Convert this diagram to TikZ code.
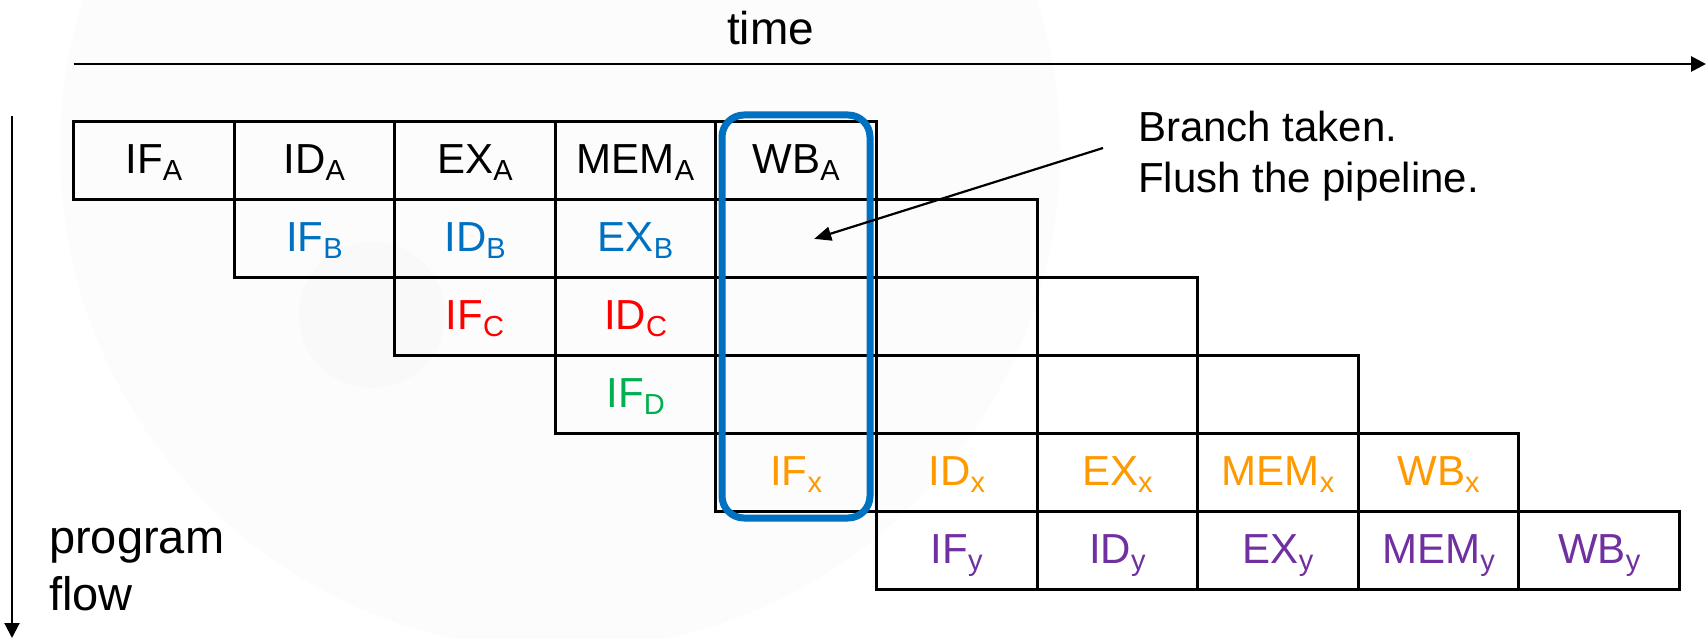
\documentclass[tikz,border=0pt]{standalone}
\usepackage{fontspec}
\setmainfont{Liberation Sans}
\usetikzlibrary{arrows.meta,calc}

\definecolor{stageblue}{HTML}{0070C0}
\definecolor{stagered}{HTML}{FF0000}
\definecolor{stagegreen}{HTML}{00B050}
\definecolor{stageorange}{HTML}{FF9900}
\definecolor{stagepurple}{HTML}{7030A0}

% stage name with its instruction letter as a subscript
\newcommand\stg[2]{#1\raisebox{-7pt}{\fontsize{29}{29}\selectfont #2}}

\tikzset{
  cell/.style={draw=black, line width=3pt, inner sep=0pt,
    minimum width=160.6pt, text height=51.5pt, text depth=26.4pt},
  lbl/.style={anchor=base, inner sep=0pt, font=\fontsize{42}{50}\selectfont},
  axis/.style={line width=2.8pt, -{Triangle[length=15pt,width=15pt]}},
  note/.style={anchor=base west, inner sep=0pt, font=\fontsize{42}{50}\selectfont},
}

\begin{document}
\begin{tikzpicture}[x=1pt,y=-1pt]
\useasboundingbox (0,0) rectangle (1707,639);
\fill[white] (0,0) rectangle (1707,639);

% faint watermark swirl
\fill[black!1.2] (560,150) circle[radius=500];
\fill[black!2.5] (372,315) circle[radius=73];

% pipeline cells: each instruction starts one clock cycle later
\foreach \r/\n in {0/A,1/B,2/C,3/D,4/x,5/y}{
  \foreach \k in {0,...,4}{
    \pgfmathtruncatemacro\c{\r+\k}
    \node[cell] (c\n\k) at ({153.8+160.6*\c},{160.95+77.9*\r}) {};
  }
}

% instruction A
\node[lbl] (lA0) at (cA0.base) {\stg{IF}{A}};
\node[lbl] (lA1) at (cA1.base) {\stg{ID}{A}};
\node[lbl] (lA2) at (cA2.base) {\stg{EX}{A}};
\node[lbl] (lA3) at (cA3.base) {\stg{MEM}{A}};
\node[lbl] (lA4) at (cA4.base) {\stg{WB}{A}};
% instruction B
\node[lbl, text=stageblue] (lB0) at (cB0.base) {\stg{IF}{B}};
\node[lbl, text=stageblue] (lB1) at (cB1.base) {\stg{ID}{B}};
\node[lbl, text=stageblue] (lB2) at (cB2.base) {\stg{EX}{B}};
% instruction C
\node[lbl, text=stagered] (lC0) at (cC0.base) {\stg{IF}{C}};
\node[lbl, text=stagered] (lC1) at (cC1.base) {\stg{ID}{C}};
% instruction D
\node[lbl, text=stagegreen] (lD0) at (cD0.base) {\stg{IF}{D}};
% branch target x
\node[lbl, text=stageorange] (lx0) at (cx0.base) {\stg{IF}{x}};
\node[lbl, text=stageorange] (lx1) at (cx1.base) {\stg{ID}{x}};
\node[lbl, text=stageorange] (lx2) at (cx2.base) {\stg{EX}{x}};
\node[lbl, text=stageorange] (lx3) at (cx3.base) {\stg{MEM}{x}};
\node[lbl, text=stageorange] (lx4) at (cx4.base) {\stg{WB}{x}};
% instruction y
\node[lbl, text=stagepurple] (ly0) at (cy0.base) {\stg{IF}{y}};
\node[lbl, text=stagepurple] (ly1) at (cy1.base) {\stg{ID}{y}};
\node[lbl, text=stagepurple] (ly2) at (cy2.base) {\stg{EX}{y}};
\node[lbl, text=stagepurple] (ly3) at (cy3.base) {\stg{MEM}{y}};
\node[lbl, text=stagepurple] (ly4) at (cy4.base) {\stg{WB}{y}};

% axes
\node[anchor=base, inner sep=0pt, font=\fontsize{46}{55}\selectfont] (time) at (770.5,45) {time};
\coordinate (tstart) at (73.5,64);
\coordinate (tend) at (1706,64);
\draw[axis] (tstart) -- (tend);

\coordinate (fstart) at (12,116);
\coordinate (fend) at (12,638);
\draw[axis, line width=2.2pt] (fstart) -- (fend);
\node[anchor=base west, inner sep=0pt, font=\fontsize{47}{57}\selectfont] (prog) at (49,553) {program};
\node[anchor=base west, inner sep=0pt, font=\fontsize{47}{57}\selectfont] (flow) at (49,610) {flow};

% the cycle in which the branch resolves
\node[draw=stageblue, line width=7pt, rounded corners=22pt, inner sep=0pt,
      minimum width=148pt, minimum height=403pt] (flushbox) at (796,316.5) {};

% callout
\node[note] (br1) at (1138,142) {Branch taken.};
\node[note] (br2) at (1138,193) {Flush the pipeline.};
\coordinate (calloutfrom) at (1103,148);
\coordinate (flushpt) at ($(cB3.center)+(18,0)$);
\draw[line width=2.2pt, -{Triangle[length=17pt,width=14pt]}] (calloutfrom) -- (flushpt);
\end{tikzpicture}
\end{document}
